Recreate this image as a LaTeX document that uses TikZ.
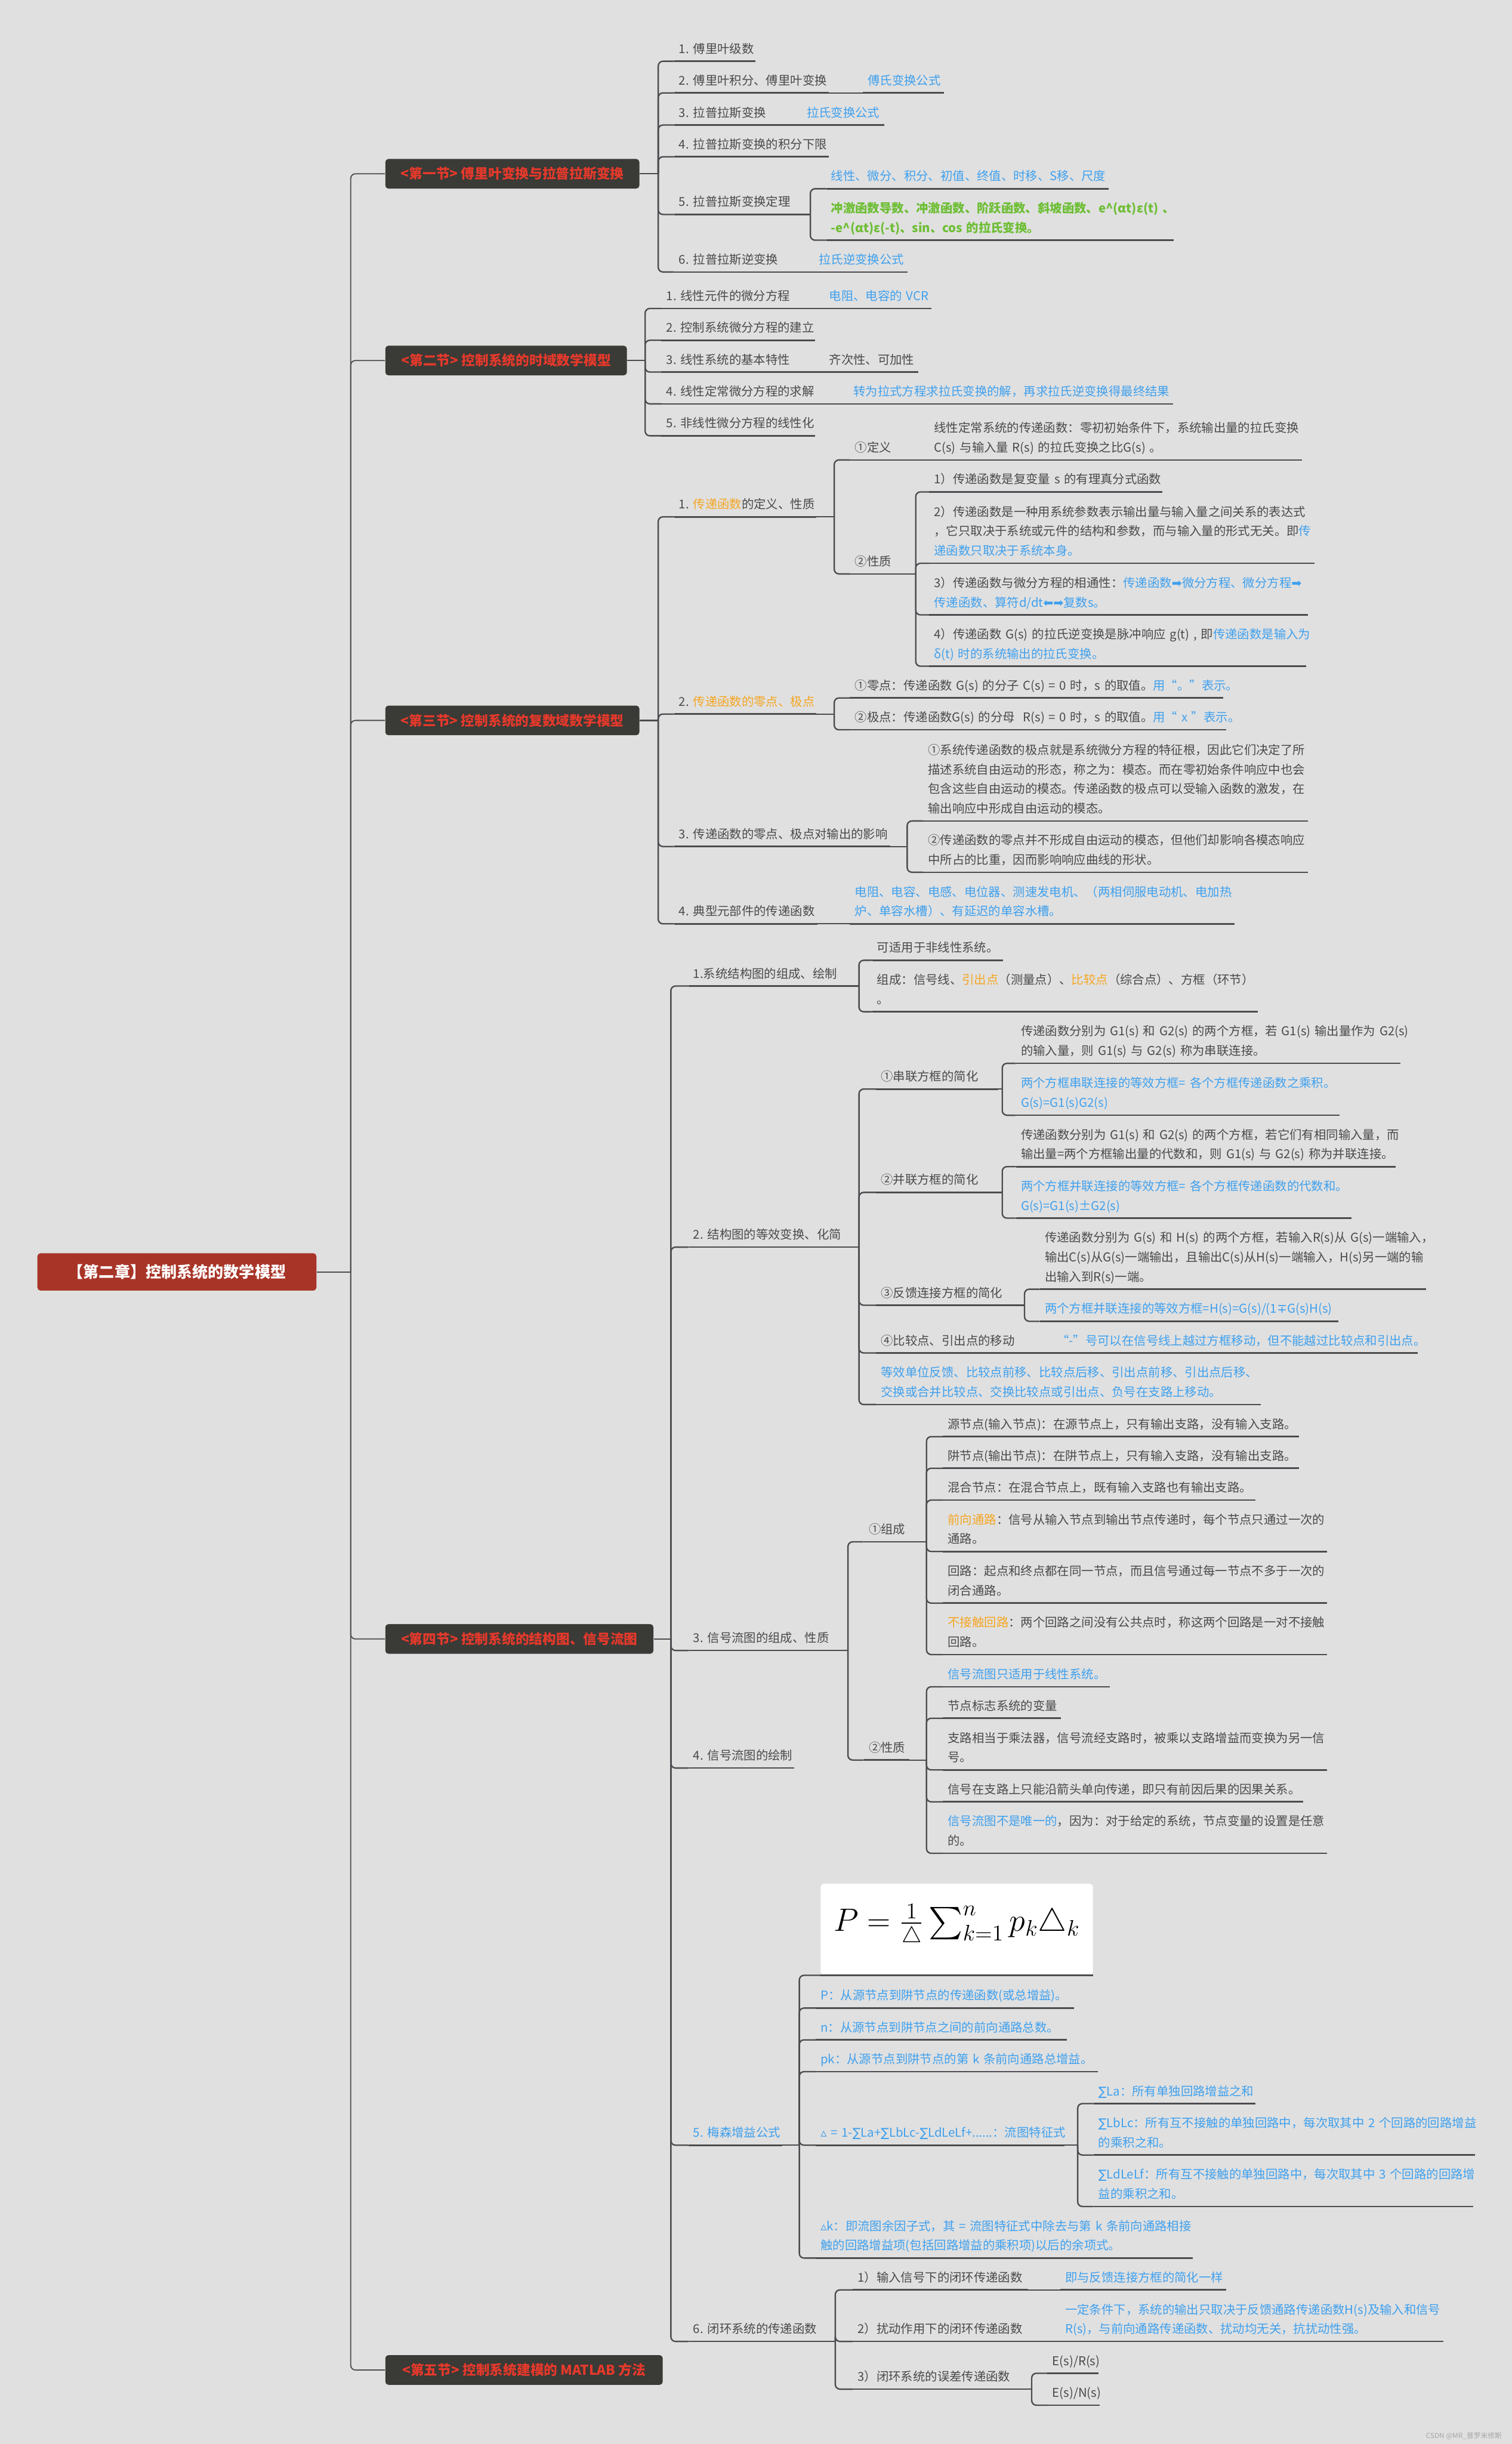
\documentclass[tikz,border=0pt]{standalone}
\usepackage{exscale}
\usepackage{fontspec}
\setmainfont{Noto Sans CJK SC}
\newfontfamily\symfont{DejaVu Sans}
\usepackage{tikz}

\definecolor{bgc}{HTML}{E0E0E0}
\definecolor{linec}{HTML}{4C4C50}
\definecolor{txt}{HTML}{4A4A4A}
\definecolor{blu}{HTML}{3FA0EE}
\definecolor{org}{HTML}{F5A623}
\definecolor{grn}{HTML}{6DBE34}
\definecolor{secfill}{HTML}{3A3A36}
\definecolor{secred}{HTML}{E5392B}
\definecolor{rootred}{HTML}{A83427}
\newcommand{\hlblue}[1]{\textcolor{blu}{#1}}
\newcommand{\hlorange}[1]{\textcolor{org}{#1}}
\newcommand{\sumch}{{\symfont ∑}}
\newcommand{\smalltri}{{\symfont ▵}}
\newcommand{\rarr}{{\symfont ➡}}
\newcommand{\larr}{{\symfont ⬅}}
\exhyphenpenalty=10000
\hyphenpenalty=10000

\begin{document}
\begin{tikzpicture}[x=1pt, y=-1pt]
  % Define styles for nodes
  \tikzset{
    topic/.style={anchor=south west, inner xsep=3pt, inner ysep=1.2pt, align=left, text=txt,
      font=\fontsize{7.8}{12.5}\selectfont, execute at end node={\strut}},
    keyword/.style={text=grn, font=\bfseries\fontsize{7.8}{12.5}\selectfont},
    uline/.style={draw=linec, line width=1pt},
    link/.style={draw=linec, line width=0.9pt, rounded corners=3pt},
    section/.style={anchor=west, fill=secfill, rounded corners=2pt, text=secred, minimum height=19pt,
      inner xsep=0pt, font=\bfseries\fontsize{8.7}{10}\selectfont},
    rootbox/.style={fill=rootred, rounded corners=2pt, text=white, minimum width=179pt,
      minimum height=24pt, font=\bfseries\fontsize{10}{12}\selectfont},
    formbox/.style={anchor=south west, fill=white, rounded corners=2pt, minimum width=174.7pt,
      minimum height=58.5pt, inner sep=0pt}
  }
  \fill[bgc] (0,0) rectangle (970,1568);
  \useasboundingbox (0,0) rectangle (970,1568);

  % Root and sections
  \node[rootbox] (root) at (113.5,816) {【第二章】控制系统的数学模型};
  \node[section, minimum width=163pt] (s1) at (247,111.5) {<第一节>~傅里叶变换与拉普拉斯变换};
  \node[section, minimum width=155pt] (s2) at (247,231.3) {<第二节>~控制系统的时域数学模型};
  \node[section, minimum width=163pt] (s3) at (247,462.2) {<第三节>~控制系统的复数域数学模型};
  \node[section, minimum width=172pt] (s4) at (247,1051.5) {<第四节>~控制系统的结构图、信号流图};
  \node[section, minimum width=178pt] (s5) at (247,1520.5) {<第五节>~控制系统建模的~MATLAB~方法};

  % Section 1
  \node[topic, text width=46pt] (i1) at (432.4,39.3) {1.~傅里叶级数};
  \node[topic, text width=92.9pt] (i2) at (432.4,59.6) {2.~傅里叶积分、傅里叶变换};
  \node[topic, text width=45.6pt, text=blu] (i2a) at (553.5,59.6) {傅氏变换公式};
  \node[topic, text width=53.8pt] (i3) at (432.4,80.2) {3.~拉普拉斯变换};
  \node[topic, text width=46.4pt, text=blu] (i3a) at (514.4,80.2) {拉氏变换公式};
  \node[topic, text width=92.9pt] (i4) at (432.4,100.6) {4.~拉普拉斯变换的积分下限};
  \node[topic, text width=70.1pt] (i5) at (432.4,137.6) {5.~拉普拉斯变换定理};
  \node[topic, text width=174.9pt, text=blu] (i5a) at (530,121.1) {线性、微分、积分、初值、终值、时移、S移、尺度};
  \node[topic, keyword, text width=216.4pt] (i5b) at (530,154.1) {冲激函数导数、冲激函数、阶跃函数、斜坡函数、e\textasciicircum(αt)ε(t)~、\\-e\textasciicircum(αt)ε(-t)、sin、cos~的拉氏变换。};
  \node[topic, text width=61.6pt] (i6) at (432.4,174.5) {6.~拉普拉斯逆变换};
  \node[topic, text width=53.5pt, text=blu] (i6a) at (522.2,174.5) {拉氏逆变换公式};

  % Section 2
  \node[topic, text width=76.7pt] (j1) at (424.3,197.9) {1.~线性元件的微分方程};
  \node[topic, text width=62.3pt, text=blu] (j1a) at (528.8,197.9) {电阻、电容的~VCR};
  \node[topic, text width=92.4pt] (j2) at (424.3,218.3) {2.~控制系统微分方程的建立};
  \node[topic, text width=76.7pt] (j3) at (424.3,238.7) {3.~线性系统的基本特性};
  \node[topic, text width=53.9pt] (j3a) at (528.8,238.7) {齐次性、可加性};
  \node[topic, text width=92.7pt] (j4) at (424.3,259.1) {4.~线性定常微分方程的求解};
  \node[topic, text width=201.9pt, text=blu] (j4a) at (544.4,259.1) {转为拉式方程求拉氏变换的解，再求拉氏逆变换得最终结果};
  \node[topic, text width=92.4pt] (j5) at (424.3,279.6) {5.~非线性微分方程的线性化};

  % Section 3
  \node[topic, text width=85pt] (k1) at (432.4,331.6) {1.~\hlorange{传递函数}的定义、性质};
  \node[topic, text width=43.1pt] (k1a) at (545.3,295.1) {①定义};
  \node[topic, text width=232.7pt] (k1a1) at (596.1,295.1) {线性定常系统的传递函数：零初初始条件下，系统输出量的拉氏变换\\C(s)~与输入量~R(s)~的拉氏变换之比G(s)~。};
  \node[topic, text width=33.2pt] (k1b) at (545.3,368.2) {②性质};
  \node[topic, text width=143.2pt] (k1b1) at (596.1,315.6) {1）传递函数是复变量~s~的有理真分式函数};
  \node[topic, text width=240.8pt] (k1b2) at (596.1,361.4) {2）传递函数是一种用系统参数表示输出量与输入量之间关系的表达式\\，它只取决于系统或元件的结构和参数，而与输入量的形式无关。即\hlblue{传}\\\hlblue{递函数只取决于系统本身。}};
  \node[topic, text width=236.6pt] (k1b3) at (596.1,394.5) {3）传递函数与微分方程的相通性：\hlblue{传递函数\rarr 微分方程、微分方程\rarr}\\\hlblue{传递函数、算符d/dt\larr\rarr 复数s。}};
  \node[topic, text width=235.5pt] (k1b4) at (596.1,427.4) {4）传递函数~G(s)~的拉氏逆变换是脉冲响应~g(t)~,~即\hlblue{传递函数是输入为}\\\hlblue{δ(t)~时的系统输出的拉氏变换。}};
  \node[topic, text width=85pt] (k2) at (432.4,458.1) {2.~\hlorange{传递函数的零点、极点}};
  \node[topic, text width=233.1pt] (k2a) at (545.3,447.8) {①零点：传递函数~G(s)~的分子~C(s)~=~0~时，s~的取值。\hlblue{用“。”表示。}};
  \node[topic, text width=234.8pt] (k2b) at (545.3,468.2) {②极点：传递函数G(s)~的分母~~R(s)~=~0~时，s~的取值。\hlblue{用“~x~”表示。}};
  \node[topic, text width=132.3pt] (k3) at (432.4,543.1) {3.~传递函数的零点、极点对输出的影响};
  \node[topic, text width=240.5pt] (k3a) at (592.2,526.7) {①系统传递函数的极点就是系统微分方程的特征根，因此它们决定了所\\描述系统自由运动的形态，称之为：模态。而在零初始条件响应中也会\\包含这些自由运动的模态。传递函数的极点可以受输入函数的激发，在\\输出响应中形成自由运动的模态。};
  \node[topic, text width=240.5pt] (k3b) at (592.2,559.6) {②传递函数的零点并不形成自由运动的模态，但他们却影响各模态响应\\中所占的比重，因而影响响应曲线的形状。};
  \node[topic, text width=85.6pt] (k4) at (432.4,592.7) {4.~典型元部件的传递函数};
  \node[topic, text width=240.2pt, text=blu] (k4a) at (545.3,592.7) {电阻、电容、电感、电位器、测速发电机、（两相伺服电动机、电加热\\炉、单容水槽）、有延迟的单容水槽。};

  % Section 4
  \node[topic, text width=100.4pt] (m1) at (441.6,632.6) {1.系统结构图的组成、绘制};
  \node[topic, text width=77.6pt] (m1a) at (559.5,616.1) {可适用于非线性系统。};
  \node[topic, text width=241.2pt] (m1b) at (559.5,649.1) {组成：信号线、\hlorange{引出点}（测量点）、\hlorange{比较点}（综合点）、方框（环节）\\。};
  \node[topic, text width=91.8pt] (m2) at (441.6,800.1) {2.~结构图的等效变换、化简};
  \node[topic, text width=72pt] (m2a) at (562,698.7) {①串联方框的简化};
  \node[topic, text width=240.2pt] (m2a1) at (651.8,682.2) {传递函数分别为~G1(s)~和~G2(s)~的两个方框，若~G1(s)~输出量作为~G2(s)\\的输入量，则~G1(s)~与~G2(s)~称为串联连接。};
  \node[topic, text width=201.1pt, text=blu] (m2a2) at (651.8,715.5) {两个方框串联连接的等效方框=~各个方框传递函数之乘积。\\G(s)=G1(s)G2(s)};
  \node[topic, text width=72pt] (m2b) at (562,765) {②并联方框的简化};
  \node[topic, text width=237.3pt] (m2b1) at (651.8,748.5) {传递函数分别为~G1(s)~和~G2(s)~的两个方框，若它们有相同输入量，而\\输出量=两个方框输出量的代数和，则~G1(s)~与~G2(s)~称为并联连接。};
  \node[topic, text width=208.9pt, text=blu] (m2b2) at (651.8,781.5) {两个方框并联连接的等效方框=~各个方框传递函数的代数和。\\G(s)=G1(s)±G2(s)};
  \node[topic, text width=80.9pt] (m2c) at (562,837.4) {③反馈连接方框的简化};
  \node[topic, text width=241.6pt] (m2c1) at (667.1,827.1) {传递函数分别为~G(s)~和~H(s)~的两个方框，若输入R(s)从~G(s)一端输入，\\输出C(s)从G(s)一端输出，且输出C(s)从H(s)一端输入，H(s)另一端的输\\出输入到R(s)一端。};
  \node[topic, text width=185.3pt, text=blu] (m2c2) at (667.1,847.7) {两个方框并联连接的等效方框=H(s)=G(s)/(1{\symfont ∓}G(s)H(s)};
  \node[topic, text width=85pt] (m2d) at (562,868) {④比较点、引出点的移动};
  \node[topic, text width=228.4pt, text=blu] (m2da) at (674.9,868) {“-”号可以在信号线上越过方框移动，但不能越过比较点和引出点。};
  \node[topic, text width=240.5pt, text=blu] (m2e) at (562,901.1) {等效单位反馈、比较点前移、比较点后移、引出点前移、引出点后移、\\交换或合并比较点、交换比较点或引出点、负号在支路上移动。};
  \node[topic, text width=87.7pt] (m3) at (441.6,1058.9) {3.~信号流图的组成、性质};
  \node[topic, text width=22.9pt] (m3a) at (554.2,989.2) {①组成};
  \node[topic, text width=222.1pt] (m3a1) at (604.9,921.7) {源节点(输入节点)：在源节点上，只有输出支路，没有输入支路。};
  \node[topic, text width=222.1pt] (m3a2) at (604.9,942) {阱节点(输出节点)：在阱节点上，只有输入支路，没有输出支路。};
  \node[topic, text width=194.1pt] (m3a3) at (604.9,962.4) {混合节点：在混合节点上，既有输入支路也有输出支路。};
  \node[topic, text width=240.2pt] (m3a4) at (604.9,995.4) {\hlorange{前向通路}：信号从输入节点到输出节点传递时，每个节点只通过一次的\\通路。};
  \node[topic, text width=240.2pt] (m3a5) at (604.9,1028.5) {回路：起点和终点都在同一节点，而且信号通过每一节点不多于一次的\\闭合通路。};
  \node[topic, text width=240.2pt] (m3a6) at (604.9,1061.5) {\hlorange{不接触回路}：两个回路之间没有公共点时，称这两个回路是一对不接触\\回路。};
  \node[topic, text width=22.9pt] (m3b) at (554.2,1129.2) {②性质};
  \node[topic, text width=100.7pt, text=blu] (m3b1) at (604.9,1082.2) {信号流图只适用于线性系统。};
  \node[topic, text width=69.5pt] (m3b2) at (604.9,1102.4) {节点标志系统的变量};
  \node[topic, text width=240.2pt] (m3b3) at (604.9,1135.5) {支路相当于乘法器，信号流经支路时，被乘以支路增益而变换为另一信\\号。};
  \node[topic, text width=224.9pt] (m3b4) at (604.9,1156) {信号在支路上只能沿箭头单向传递，即只有前因后果的因果关系。};
  \node[topic, text width=240.2pt] (m3b5) at (604.9,1189) {\hlblue{信号流图不是唯一的}，因为：对于给定的系统，节点变量的设置是任意\\的。};
  \node[topic, text width=61.6pt] (m4) at (441.6,1134.3) {4.~信号流图的绘制};
  \node[topic, text width=53.8pt, text=blu] (m5) at (441.6,1376.3) {5.~梅森增益公式};
  \node[formbox] (m5a) at (526.3,1267.3) {\raisebox{15pt}{\fontsize{22.5}{26}\selectfont $P=\frac{1}{\triangle}\sum_{k=1}^{n}p_k\triangle_k$}\hspace{6pt}};
  \node[topic, text width=159.4pt, text=blu] (m5b) at (523.3,1288.3) {P：从源节点到阱节点的传递函数(或总增益)。};
  \node[topic, text width=154.8pt, text=blu] (m5c) at (523.3,1308.7) {n：从源节点到阱节点之间的前向通路总数。};
  \node[topic, text width=174.7pt, text=blu] (m5d) at (523.3,1329.1) {pk：从源节点到阱节点的第~k~条前向通路总增益。};
  \node[topic, text width=153.3pt, text=blu] (m5e) at (523.3,1376.3) {\smalltri~=~1-\sumch La+\sumch LbLc-\sumch LdLeLf+......：流图特征式};
  \node[topic, text width=97.4pt, text=blu] (m5e1) at (701.5,1349.6) {\sumch La：所有单独回路增益之和};
  \node[topic, text width=238.4pt, text=blu] (m5e2) at (701.5,1382.6) {\sumch LbLc：所有互不接触的单独回路中，每次取其中~2~个回路的回路增益\\的乘积之和。};
  \node[topic, text width=237.3pt, text=blu] (m5e3) at (701.5,1415.6) {\sumch LdLeLf：所有互不接触的单独回路中，每次取其中~3~个回路的回路增\\益的乘积之和。};
  \node[topic, text width=235.5pt, text=blu] (m5f) at (523.3,1448.7) {\smalltri k：即流图余因子式，其~=~流图特征式中除去与第~k~条前向通路相接\\触的回路增益项(包括回路增益的乘积项)以后的余项式。};
  \node[topic, text width=76.9pt] (m6) at (441.6,1502.2) {6.~闭环系统的传递函数};
  \node[topic, text width=105.9pt] (m6a) at (547.1,1469.1) {1）输入信号下的闭环传递函数};
  \node[topic, text width=99.9pt, text=blu] (m6aa) at (680.2,1469.1) {即与反馈连接方框的简化一样};
  \node[topic, text width=105.9pt] (m6b) at (547.1,1502.2) {2）扰动作用下的闭环传递函数};
  \node[topic, text width=239.4pt, text=blu] (m6ba) at (680.2,1502.2) {一定条件下，系统的输出只取决于反馈通路传递函数H(s)及输入和信号\\R(s)，与前向通路传递函数、扰动均无关，抗扰动性强。};
  \node[topic, text width=99.4pt] (m6c) at (547.1,1532.8) {3）闭环系统的误差传递函数};
  \node[topic, text width=26.5pt] (m6c1) at (672,1522.6) {E(s)/R(s)};
  \node[topic, text width=27.2pt] (m6c2) at (672,1543.1) {E(s)/N(s)};

  \node[anchor=east, text=gray!70, font=\fontsize{4.5}{5}\selectfont] (wm) at (967,1563) {CSDN~@MR\_普罗米修斯};

  % Underlines
  \foreach \n in {i1,i2,i2a,i3,i3a,i4,i5,i5a,i5b,i6,i6a,
                  j1,j1a,j2,j3,j3a,j4,j4a,j5,
                  k1,k1a,k1a1,k1b,k1b1,k1b2,k1b3,k1b4,k2,k2a,k2b,k3,k3a,k3b,k4,k4a,
                  m1,m1a,m1b,m2,m2a,m2a1,m2a2,m2b,m2b1,m2b2,m2c,m2c1,m2c2,m2d,m2da,m2e,
                  m3,m3a,m3a1,m3a2,m3a3,m3a4,m3a5,m3a6,m3b,m3b1,m3b2,m3b3,m3b4,m3b5,m4,
                  m5,m5a,m5b,m5c,m5d,m5e,m5e1,m5e2,m5e3,m5f,m6,m6a,m6aa,m6b,m6ba,m6c,m6c1,m6c2}
    \draw[uline] (\n.south west) -- (\n.south east);

  % Fork points
  \coordinate (ft) at (225,816);
  \coordinate (f1) at (422.3,111.5);
  \coordinate (f15) at (519.9,137.6);
  \coordinate (f2) at (413.9,231.3);
  \coordinate (f3) at (422.3,462.2);
  \coordinate (f31) at (535.2,331.6);
  \coordinate (f312) at (587.5,368.2);
  \coordinate (f32) at (535.2,458.1);
  \coordinate (f33) at (582,543.1);
  \coordinate (f4) at (430.4,1051.5);
  \coordinate (f41) at (551.1,632.6);
  \coordinate (f42) at (551.1,800.1);
  \coordinate (f421) at (643,698.7);
  \coordinate (f422) at (643,765);
  \coordinate (f423) at (657.3,837.4);
  \coordinate (f43) at (544,1058.9);
  \coordinate (f431) at (594.4,989.2);
  \coordinate (f432) at (594.4,1129.2);
  \coordinate (f45) at (512.8,1376.3);
  \coordinate (f451) at (691.4,1376.3);
  \coordinate (f46) at (535.9,1502.2);
  \coordinate (f463) at (661.9,1532.8);

  % Connectors
  \draw[link, line width=0.7pt] (root.east) -- (ft);
  \foreach \s in {s1,s2,s3,s4,s5} \draw[link, line width=0.7pt] (ft) |- (\s.west);
  \draw[link] (s1.east) -- (f1);
  \foreach \c in {i1,i2,i3,i4,i5,i6} \draw[link] (f1) |- (\c.south west);
  \draw[link] (i2.south east) -- (i2a.south west);
  \draw[link] (i3.south east) -- (i3a.south west);
  \draw[link] (i6.south east) -- (i6a.south west);
  \draw[link] (i5.south east) -- (f15);
  \foreach \c in {i5a,i5b} \draw[link] (f15) |- (\c.south west);

  \draw[link] (s2.east) -- (f2);
  \foreach \c in {j1,j2,j3,j4,j5} \draw[link] (f2) |- (\c.south west);
  \draw[link] (j1.south east) -- (j1a.south west);
  \draw[link] (j3.south east) -- (j3a.south west);
  \draw[link] (j4.south east) -- (j4a.south west);

  \draw[link] (s3.east) -- (f3);
  \foreach \c in {k1,k2,k3,k4} \draw[link] (f3) |- (\c.south west);
  \draw[link] (k1.south east) -- (f31);
  \foreach \c in {k1a,k1b} \draw[link] (f31) |- (\c.south west);
  \draw[link] (k1a.south east) -- (k1a1.south west);
  \draw[link] (k1b.south east) -- (f312);
  \foreach \c in {k1b1,k1b2,k1b3,k1b4} \draw[link] (f312) |- (\c.south west);
  \draw[link] (k2.south east) -- (f32);
  \foreach \c in {k2a,k2b} \draw[link] (f32) |- (\c.south west);
  \draw[link] (k3.south east) -- (f33);
  \foreach \c in {k3a,k3b} \draw[link] (f33) |- (\c.south west);
  \draw[link] (k4.south east) -- (k4a.south west);

  \draw[link] (s4.east) -- (f4);
  \foreach \c in {m1,m2,m3,m4,m5,m6} \draw[link] (f4) |- (\c.south west);
  \draw[link] (m1.south east) -- (f41);
  \foreach \c in {m1a,m1b} \draw[link] (f41) |- (\c.south west);
  \draw[link] (m2.south east) -- (f42);
  \foreach \c in {m2a,m2b,m2c,m2d,m2e} \draw[link] (f42) |- (\c.south west);
  \draw[link] (m2a.south east) -- (f421);
  \foreach \c in {m2a1,m2a2} \draw[link] (f421) |- (\c.south west);
  \draw[link] (m2b.south east) -- (f422);
  \foreach \c in {m2b1,m2b2} \draw[link] (f422) |- (\c.south west);
  \draw[link] (m2c.south east) -- (f423);
  \foreach \c in {m2c1,m2c2} \draw[link] (f423) |- (\c.south west);
  \draw[link] (m2d.south east) -- (m2da.south west);
  \draw[link] (m3.south east) -- (f43);
  \foreach \c in {m3a,m3b} \draw[link] (f43) |- (\c.south west);
  \draw[link] (m3a.south east) -- (f431);
  \foreach \c in {m3a1,m3a2,m3a3,m3a4,m3a5,m3a6} \draw[link] (f431) |- (\c.south west);
  \draw[link] (m3b.south east) -- (f432);
  \foreach \c in {m3b1,m3b2,m3b3,m3b4,m3b5} \draw[link] (f432) |- (\c.south west);
  \draw[link] (m5.south east) -- (f45);
  \foreach \c in {m5a,m5b,m5c,m5d,m5e,m5f} \draw[link] (f45) |- (\c.south west);
  \draw[link] (m5e.south east) -- (f451);
  \foreach \c in {m5e1,m5e2,m5e3} \draw[link] (f451) |- (\c.south west);
  \draw[link] (m6.south east) -- (f46);
  \foreach \c in {m6a,m6b,m6c} \draw[link] (f46) |- (\c.south west);
  \draw[link] (m6a.south east) -- (m6aa.south west);
  \draw[link] (m6b.south east) -- (m6ba.south west);
  \draw[link] (m6c.south east) -- (f463);
  \foreach \c in {m6c1,m6c2} \draw[link] (f463) |- (\c.south west);
\end{tikzpicture}
\end{document}
